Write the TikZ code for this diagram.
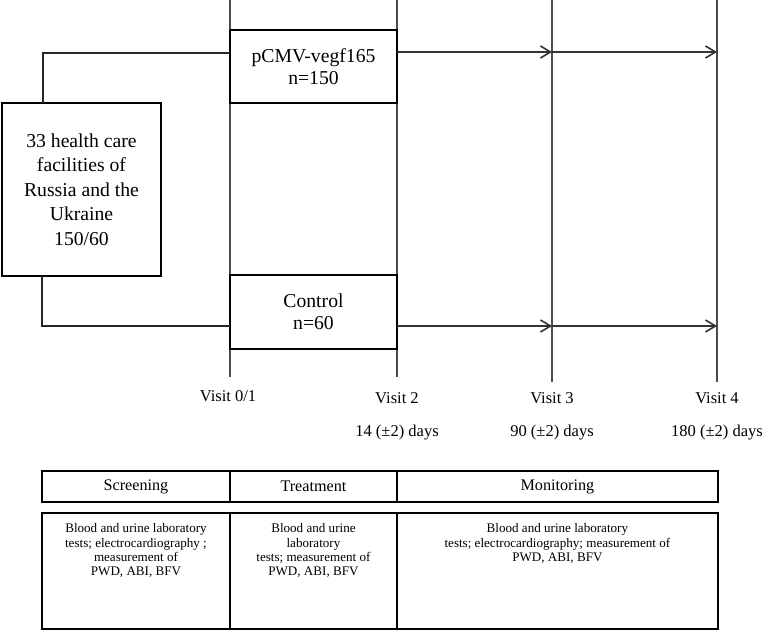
\documentclass[tikz,border=0pt]{standalone}
\usepackage{fontspec}
\setmainfont{Liberation Serif}
\usetikzlibrary{positioning, arrows.meta}

\begin{document}
\begin{tikzpicture}[
    x=0.02cm, y=-0.02cm,
    box/.style={rectangle, draw, line width=1.1pt, align=center, outer sep=0pt, inner sep=0pt, font=\fontsize{11.2}{12.4}\selectfont},
    timeline/.style={draw=black!70, line width=0.85pt},
    link/.style={draw=black!85, line width=0.9pt},
    arrow/.style={-{Straight Barb[length=0.2cm, width=0.24cm]}, draw=black!80, line width=0.9pt},
    visit/.style={anchor=base, font=\fontsize{9.4}{11}\selectfont},
    headcell/.style={rectangle, draw, line width=0.8pt, outer sep=0pt, minimum height=0.62cm, font=\fontsize{9.2}{11}\selectfont},
    bodycell/.style={rectangle, draw, line width=0.8pt, outer sep=0pt, inner sep=0pt, font=\fontsize{7.45}{8}\selectfont}
]
    \useasboundingbox (0,0) rectangle (767,631);

    % Visit lines
    \foreach \name/\xx/\yy in {v0/230/377, v2/397/377, v3/552/382, v4/717/382} {
        \coordinate (\name-top) at (\xx,0);
        \coordinate (\name-bot) at (\xx,\yy);
        \draw[timeline] (\name-top) -- (\name-bot);
    }

    % Centres
    \node[box, minimum width=3.18cm, minimum height=3.46cm, font=\fontsize{11.2}{14}\selectfont] (centre) at (81.5,189.5)
        {33 health care\\facilities of\\Russia and the\\Ukraine\\150/60};

    % Groups
    \node[box, minimum width=3.34cm, minimum height=1.46cm] (pcmv) at (313.5,66.5) {pCMV-vegf165\\n=150};
    \node[box, minimum width=3.34cm, minimum height=1.48cm] (control) at (313.5,312) {Control\\n=60};

    % Randomisation
    \draw[link] ([xshift=0.82cm]centre.north west) |- (pcmv.west |- 0,53);
    \draw[link] ([xshift=0.8cm]centre.south west) |- (control.west |- 0,326);

    % Follow-up
    \coordinate (a3) at (552,52);
    \coordinate (a4) at (717,52);
    \coordinate (b3) at (552,326);
    \coordinate (b4) at (717,326);
    \draw[arrow] (pcmv.east |- a3) -- (a3);
    \draw[arrow] (a3) -- (a4);
    \draw[arrow] (control.east |- b3) -- (b3);
    \draw[arrow] (b3) -- (b4);

    % Visits
    \node[visit] (visit0) at (228,401) {Visit 0/1};
    \foreach \xx/\n/\d in {397/2/14, 552/3/90, 717/4/180} {
        \node[visit] (visit\n) at (\xx,403) {Visit \n};
        \node[visit] (days\n) at (\xx,436) {\d{} (±2) days};
    }

    % Stages
    \node[headcell, minimum width=3.76cm] (screen) at (136,486.5) {Screening};
    \node[headcell, minimum width=3.34cm, right=0pt of screen] (treat) {Treatment};
    \node[headcell, minimum width=6.42cm, right=0pt of treat] (monit) {Monitoring};

    % Procedures
    \node[bodycell, anchor=north west] (screen_ops) at (42,513)
        {\parbox[c][2.32cm][t]{3.76cm}{\centering\rule{0pt}{0.4cm}Blood and urine laboratory\\tests; electrocardiography ;\\measurement of\\PWD, ABI, BFV}};
    \node[bodycell, right=0pt of screen_ops] (treat_ops)
        {\parbox[c][2.32cm][t]{3.34cm}{\centering\rule{0pt}{0.4cm}Blood and urine\\laboratory\\tests; measurement of\\PWD, ABI, BFV}};
    \node[bodycell, right=0pt of treat_ops] (monit_ops)
        {\parbox[c][2.32cm][t]{6.42cm}{\centering\rule{0pt}{0.4cm}Blood and urine laboratory\\tests; electrocardiography; measurement of\\PWD, ABI, BFV}};

\end{tikzpicture}
\end{document}
